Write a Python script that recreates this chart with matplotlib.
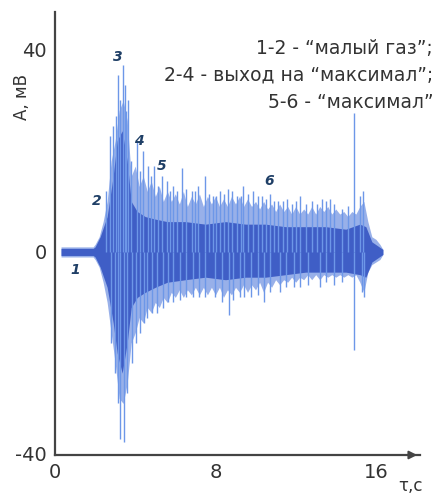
import matplotlib
matplotlib.use("Agg")
import matplotlib.pyplot as plt

# ---- data ----
t_env = [0.3, 1.9, 2.0, 2.2, 2.4, 2.6, 2.8, 3.0, 3.2, 3.4, 3.6, 3.8, 4.0, 4.2, 4.4, 4.6,
         4.8, 5.0, 5.2, 5.4, 5.6, 5.8, 6.0, 6.2, 6.4, 6.6, 6.8, 7.0, 7.2, 7.4, 7.6,
         7.8, 8.0, 8.2, 8.4, 8.6, 8.8, 9.0, 9.2, 9.4, 9.6, 9.8, 10.0, 10.2, 10.4,
         10.6, 10.8, 11.0, 11.2, 11.4, 11.6, 11.8, 12.0, 12.2, 12.4, 12.6, 12.8,
         13.0, 13.2, 13.4, 13.6, 13.8, 14.0, 14.2, 14.4, 14.6, 14.8, 15.0, 15.2,
         15.4, 15.6, 15.8, 16.0, 16.2, 16.35]
upper_outer = [1, 1, 1.5, 3, 6, 10, 18, 22, 28, 30, 26, 15, 17, 13, 15, 12,
               14, 11, 13, 10, 12, 10, 11.5, 9.5, 12, 9, 11, 9.5, 11.5, 9, 11,
               9.5, 11, 9, 10.5, 9, 11, 9.5, 11, 9, 10.5, 9, 10, 8.5, 10,
               8.5, 9.5, 8, 9.5, 8, 9, 7.5, 9, 7.5, 8.5, 7.5, 9,
               7.5, 9, 8, 9, 7.5, 8.5, 7.5, 8, 7, 8, 7.5, 9,
               10, 6, 3, 2.5, 1.5, 0.5]
lower_outer = [-1, -1, -1.5, -3, -6, -10, -16, -22, -29, -30, -26, -18, -16, -13, -14, -11,
               -12, -10, -11, -9, -10, -8, -9, -7.5, -9, -7.5, -8.5, -7, -8.5, -7, -8.5,
               -7, -8.5, -7, -9, -7.5, -8.5, -7, -8, -6.5, -8, -6.5, -7.5, -6, -8,
               -6, -7, -5.5, -6.5, -5.5, -6, -5, -6, -5, -5.5, -4.5, -5.5,
               -4.5, -5.5, -4.5, -5, -4.5, -5, -4.5, -5, -4.5, -5, -4.5, -6,
               -8, -4, -2.5, -2, -1.5, -0.5]

t_core = [0.3, 1.9, 2.0, 2.25, 2.6, 2.9, 3.1, 3.35, 3.6, 3.8, 4.1, 4.5, 5.0, 5.6,
          6.5, 7.5, 8.5, 9.5, 10.5, 11.5, 12.5, 13.5, 14.5, 15.2, 15.5, 15.8, 16.35]
upper_core = [0.7, 0.7, 1, 3, 7, 15, 22, 24, 18, 10, 8, 7, 6.5, 6,
              6, 5.5, 6, 5.5, 5.5, 5, 5, 5, 4.5, 5.5, 5, 2, 0.5]
lower_core = [-0.7, -0.7, -1, -3, -7, -14, -20, -24, -18, -11, -9, -8, -7, -6,
              -5.5, -5, -5.5, -5, -5, -4.5, -4, -4, -4, -4.5, -5, -2, -0.5]

spike_up_t = [2.55, 2.74, 2.91, 3.05, 3.16, 3.25, 3.37, 3.49, 3.55, 3.66, 3.8, 4.07,
              4.25, 4.40, 4.62, 4.8, 4.95, 5.15, 5.32, 5.57, 5.75, 5.90, 6.1, 6.31,
              6.55, 6.81, 7.0, 7.15, 7.48, 7.7, 7.89, 8.05, 8.23, 8.45, 8.64, 8.85,
              9.06, 9.25, 9.39, 9.6, 9.89, 10.1, 10.3, 10.5, 10.72, 10.9, 11.13,
              11.35, 11.55, 11.8, 12.0, 12.21, 12.5, 12.8, 13.05, 13.3, 13.5, 13.71,
              13.9, 14.3, 14.6, 14.92, 15.2, 15.37]
spike_up_v = [12, 23, 25, 27, 35, 30, 37, 33, 28, 30, 18, 22,
              16, 20, 17, 15, 17, 13, 15, 14, 12, 13, 12, 16.6,
              12.5, 12, 12, 13, 15, 11.5, 11, 11, 12, 11.5, 12.5, 12,
              11, 11, 13, 11.5, 12, 11, 11, 10.5, 11.5, 10, 10,
              10, 10.5, 9.5, 10, 11, 9.5, 10, 9.5, 10.5, 10, 10.5,
              9.5, 8.5, 9, 27.5, 11, 12]
spike_dn_t = [2.8, 3.0, 3.15, 3.25, 3.45, 3.6, 3.85, 4.05, 4.25, 4.45, 4.6, 4.85,
              5.1, 5.4, 5.65, 5.9, 6.25, 6.55, 6.9, 7.2, 7.5, 8.0, 8.35, 8.7, 8.9,
              9.2, 9.4, 9.75, 10.1, 10.4, 10.7, 11.2, 11.5, 11.9, 12.2, 12.6, 13.2,
              13.5, 13.9, 14.3, 14.92, 15.3, 15.4]
spike_dn_v = [-18, -24, -30, -37, -37.6, -28, -22, -18, -16, -14, -13, -12,
              -12, -11, -10, -10, -9.5, -9, -9, -9, -9, -9, -10, -12.5, -9.5,
              -9, -9, -9, -8.5, -10, -8, -8, -7, -7, -7, -6.5, -7,
              -6, -6.5, -6, -19.5, -8, -9]

x_ticks = [0, 8, 16]
y_ticks = [-40, 0, 40]
marks = ["1", "2", "3", "4", "5", "6"]
mark_t = [1.0, 2.1, 3.15, 4.2, 5.3, 10.7]
mark_v = [-3.6, 10, 38.5, 22, 17, 14]
legend_lines = ["1-2 - \u201cмалый газ\u201d;",
                "2-4 - выход на \u201cмаксимал\u201d;",
                "5-6 - \u201cмаксимал\u201d"]

# ---- figure ----
W, H = 445, 495
fig = plt.figure(figsize=(W / 100, H / 100), dpi=100)
ax = fig.add_axes([55 / W, 40 / H, (420 - 55) / W, (455 - 12) / H])
ax.set_xlim(0, 18.2)
ax.set_ylim(-40.2, 47.5)

for s in ["top", "right"]:
    ax.spines[s].set_visible(False)
for s in ["left", "bottom"]:
    ax.spines[s].set_color("#444444")
    ax.spines[s].set_linewidth(1.6)

# arrow on the time axis
ax.annotate("", xy=(18.2, -40.2), xytext=(17.6, -40.2),
            arrowprops=dict(arrowstyle="-|>", color="#444444", lw=1.4,
                            mutation_scale=12),
            annotation_clip=False)

ax.fill_between(t_env, lower_outer, upper_outer, color="#86a2e6", alpha=0.85, lw=0)
ax.vlines(spike_up_t, 0, spike_up_v, color="#6d97e8", lw=1.0)
ax.vlines(spike_dn_t, spike_dn_v, 0, color="#6d97e8", lw=1.0)
ax.fill_between(t_core, lower_core, upper_core, color="#3a5ac4", alpha=0.95, lw=0)

ax.set_xticks(x_ticks)
ax.set_yticks(y_ticks)
ax.set_xticklabels([str(v) for v in x_ticks])
ax.set_yticklabels([str(v) for v in y_ticks])
ax.tick_params(length=0, labelsize=14, colors="#333333", pad=6)

ax.text(18.35, -46.3, "\u03c4,с", fontsize=12, color="#333333", ha="right", va="center")
fig.text(22 / W, 1 - 97 / H, "А, мВ", rotation=90, fontsize=12, color="#333333",
         ha="center", va="center")

for m, tt, vv in zip(marks, mark_t, mark_v):
    ax.text(tt, vv, m, fontsize=10, fontstyle="italic", fontweight="bold",
            color="#1f3f66", ha="center", va="center")

for i, line in enumerate(legend_lines):
    fig.text(433 / W, 1 - (48 + 27 * i) / H, line, fontsize=13.5, color="#333333",
             ha="right", va="center")

fig.savefig("out.png", dpi=100)
